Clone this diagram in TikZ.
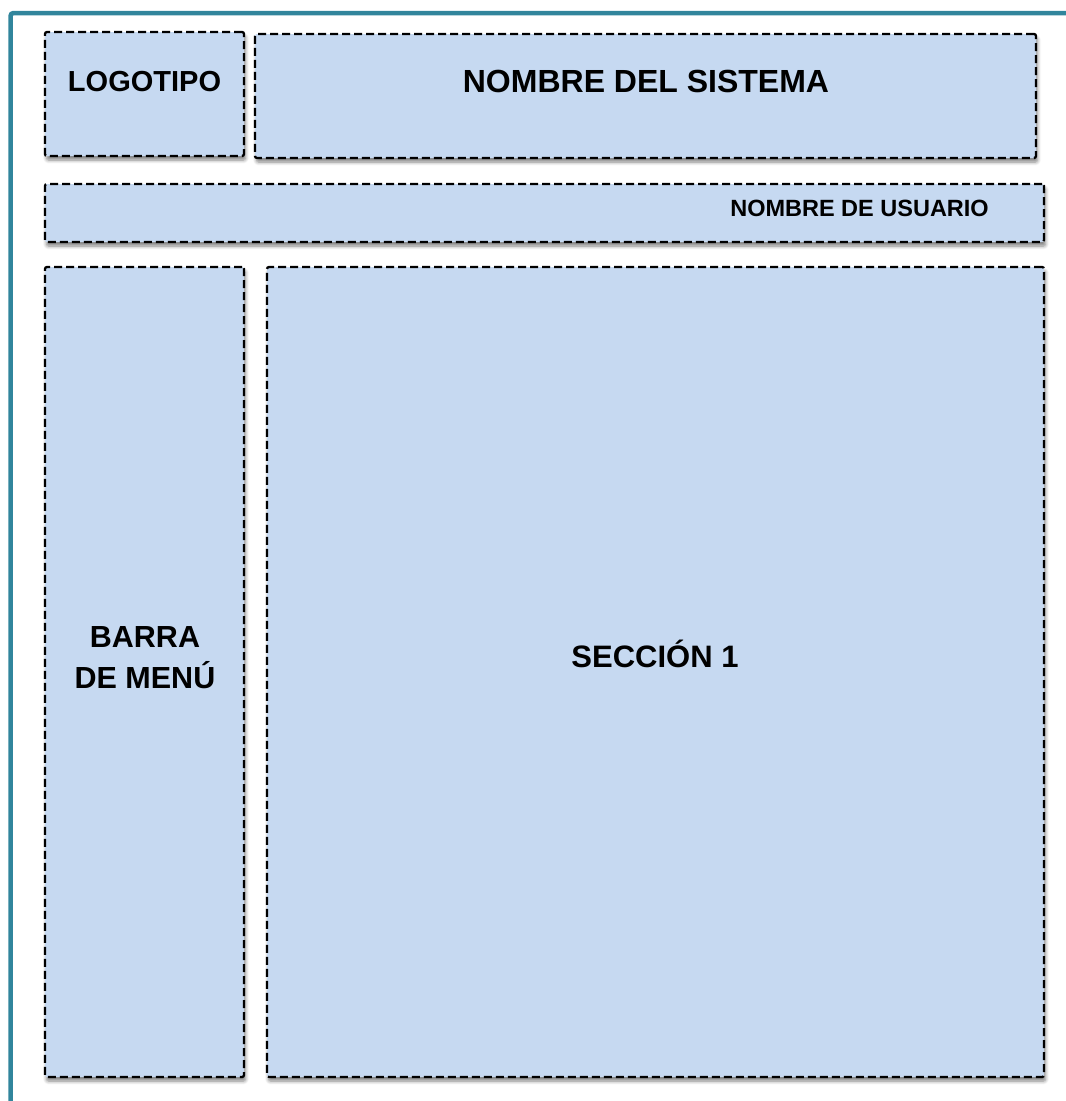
\documentclass[tikz,border=0pt]{standalone}
\usepackage{fontspec}
\setmainfont{Liberation Sans}
\usetikzlibrary{shadows.blur}
\definecolor{panel}{HTML}{C6D9F1}
\definecolor{teal}{HTML}{31859C}
\tikzset{
  panelbox/.style={draw=black, fill=panel, dash pattern=on 8pt off 4pt, line width=2.3pt,
    rounded corners=2pt, inner sep=0pt, outer sep=0pt,
    blur shadow={shadow xshift=1.5pt, shadow yshift=-4pt, shadow blur steps=6, shadow blur radius=3.5pt, shadow opacity=50}},
  lbl/.style={inner sep=0pt, font=\bfseries},
}
\begin{document}
\begin{tikzpicture}[x=1pt,y=-1pt]
\useasboundingbox (0,0) rectangle (1066,1101);
% teal frame
\draw[teal, line width=4.5pt, rounded corners=3pt] (10.5,1110) -- (10.5,13) -- (1075,13);
% boxes
\node[panelbox, minimum width=199pt, minimum height=124pt] (logo) at (144.5,94) {};
\node[panelbox, minimum width=781pt, minimum height=124pt] (sys) at (645.5,96) {};
\node[panelbox, minimum width=999pt, minimum height=58pt] (user) at (544.5,213) {};
\node[panelbox, minimum width=199pt, minimum height=810pt] (menu) at (144.5,672) {};
\node[panelbox, minimum width=777pt, minimum height=810pt] (sec) at (655.5,672) {};
% labels
\node[lbl, anchor=base, font=\bfseries\fontsize{29}{35}\selectfont] (logot) at (144.5,91) {LOGOTIPO};
\node[lbl, anchor=base, font=\bfseries\fontsize{32}{38}\selectfont] (syst) at (646,92) {NOMBRE DEL SISTEMA};
\node[lbl, anchor=base east, font=\bfseries\fontsize{23.5}{28}\selectfont] (usert) at (989,216) {NOMBRE DE USUARIO};
\node[lbl, anchor=north, align=center, font=\bfseries\fontsize{30.5}{41}\selectfont] (menut) at (145,626) {BARRA\\DE MENÚ};
\node[lbl, anchor=base, font=\bfseries\fontsize{31}{37}\selectfont] (sect) at (655,667) {SECCIÓN 1};
\end{tikzpicture}
\end{document}
